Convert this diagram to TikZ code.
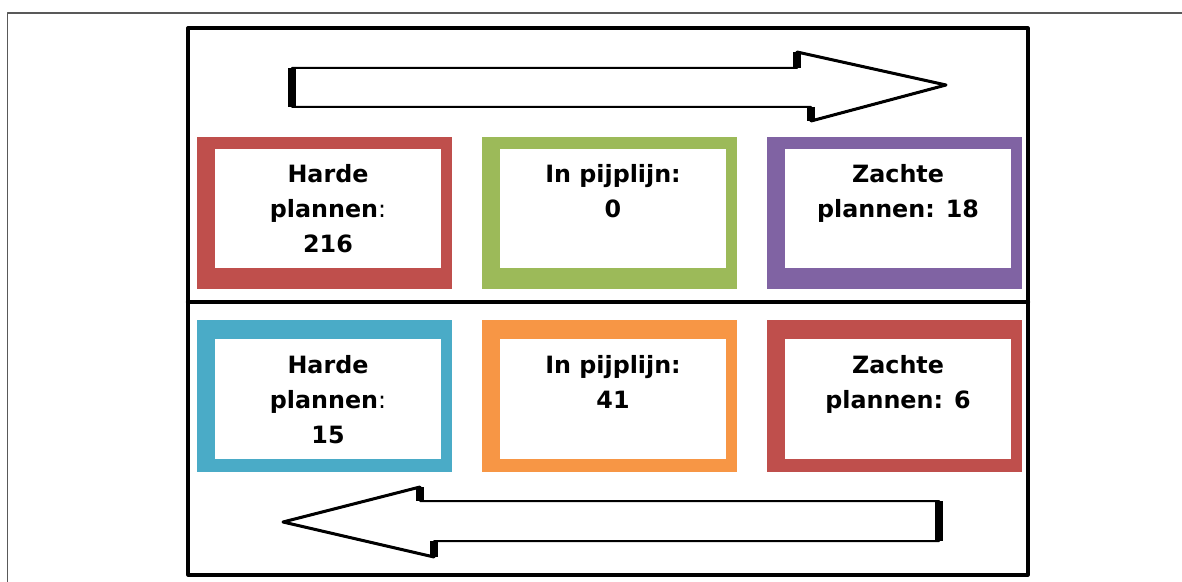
\documentclass[tikz,border=0pt]{standalone}
\usepackage{fontspec}
\setmainfont{DejaVu Sans}
\usepackage{tikz}
\definecolor{hardred}{rgb}{0.75,0.31,0.30}
\definecolor{pipegreen}{rgb}{0.61,0.73,0.35}
\definecolor{softpurple}{rgb}{0.50,0.39,0.64}
\definecolor{hardblue}{rgb}{0.29,0.67,0.78}
\definecolor{pipeorange}{rgb}{0.97,0.59,0.27}
\definecolor{framegray}{rgb}{0.35,0.35,0.35}

\begin{document}
\begin{tikzpicture}[line cap=round,line join=round,x=0.5pt,y=-0.5pt,
    plantext/.style={anchor=north,align=center,inner sep=0pt,
      font=\bfseries\fontsize{11.9}{17.5}\selectfont},
    panel/.style={draw=black,line width=1.6pt,line cap=rect},
    bigarrow/.style={draw=black,fill=white,line width=1pt},
    headline/.style={line width=1.5pt},
    thickedge/.style={line width=4pt,line cap=butt}]
   \useasboundingbox (0,0) rectangle (1182,582);
   % outer frame
   \draw[color=framegray,line width=0.8pt] (7.5,582) -- (7.5,13) -- (1182,13);
   % two panels
   \draw[panel] (188,28) rectangle (1028,302);
   \draw[panel] (188,302) rectangle (1028,575);
   \draw[line width=2.2pt] (188,302) -- (1028,302);

   % arrow to the right
   \draw[bigarrow] (292,68) -- (797,68) -- (797,52) -- (946,85) -- (811,121) -- (811,107) -- (292,107) -- cycle;
   \draw[headline] (797,52) -- (946,85) -- (811,121);
   \draw[thickedge] (292,68) -- (292,107);
   \draw[thickedge] (797,52) -- (797,68);
   \draw[thickedge] (811,107) -- (811,121);

   % top row
   \fill[hardred] (197,137) rectangle (452,289);
   \fill[white] (215,149) rectangle (441,268);
   \node[plantext] (hard1) at (328,164) {Harde\\plannen{\mdseries:}\\216};
   \fill[pipegreen] (482,137) rectangle (737,289);
   \fill[white] (500,149) rectangle (726,268);
   \node[plantext] (pipe1) at (613,164) {In pijplijn:\\0};
   \fill[softpurple] (767,137) rectangle (1022,289);
   \fill[white] (785,149) rectangle (1011,268);
   \node[plantext] (soft1) at (898,164) {Zachte\\plannen: 18};

   % bottom row
   \fill[hardblue] (197,320) rectangle (452,472);
   \fill[white] (215,339) rectangle (441,459);
   \node[plantext] (hard2) at (328,355) {Harde\\plannen{\mdseries:}\\15};
   \fill[pipeorange] (482,320) rectangle (737,472);
   \fill[white] (500,339) rectangle (726,459);
   \node[plantext] (pipe2) at (613,355) {In pijplijn:\\41};
   \fill[hardred] (767,320) rectangle (1022,472);
   \fill[white] (785,339) rectangle (1011,459);
   \node[plantext] (soft2) at (898,355) {Zachte\\plannen: 6};

   % arrow to the left
   \draw[bigarrow] (939,501) -- (420,501) -- (420,487) -- (283,522) -- (434,557) -- (434,541) -- (939,541) -- cycle;
   \draw[headline] (420,487) -- (283,522) -- (434,557);
   \draw[thickedge] (939,501) -- (939,541);
   \draw[thickedge] (420,487) -- (420,501);
   \draw[thickedge] (434,541) -- (434,557);
\end{tikzpicture}
\end{document}
